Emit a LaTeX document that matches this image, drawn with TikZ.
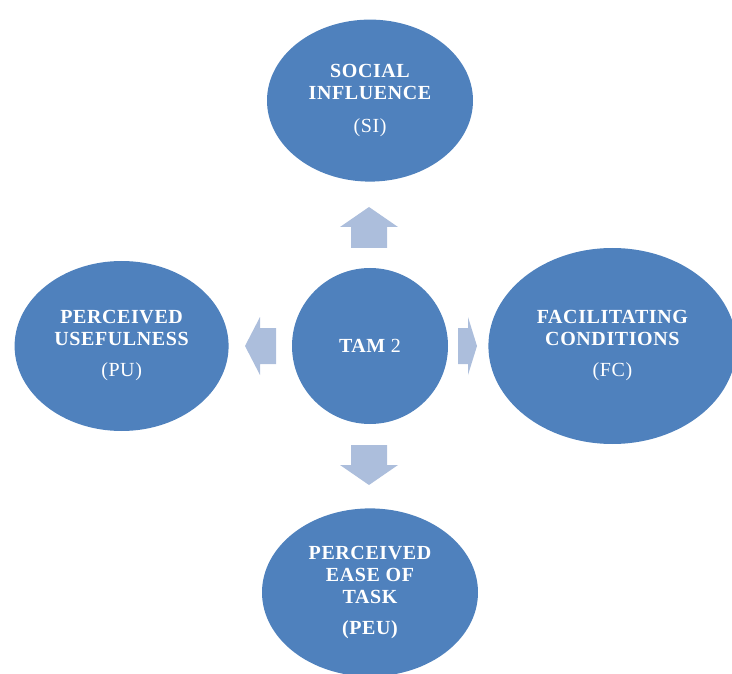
\documentclass[tikz,border=0pt]{standalone}
\usepackage{fontspec}
\setmainfont{Liberation Serif}[LetterSpace=3]
\usetikzlibrary{positioning,shapes.geometric}

\definecolor{tamblue}{RGB}{79,129,189}
\definecolor{arrowblue}{RGB}{172,190,220}

\tikzset{
  construct/.style={
    ellipse,
    fill=tamblue,
    inner sep=0pt,
    text=white,
    align=center,
    font=\bfseries\fontsize{20}{22}\selectfont
  },
  blockarrow/.style={fill=arrowblue}
}

\begin{document}
\begin{tikzpicture}[x=1pt,y=-1pt]
        \useasboundingbox (0,0) rectangle (732,674);

        % Centre model
        \node[construct, minimum width=156pt, minimum height=156pt] (tam) at (370,346)
          {TAM {\mdseries 2}};

        % Surrounding constructs
        \node[construct, minimum width=206pt, minimum height=162pt,
              above=86pt of tam] (si)
          {SOCIAL\\INFLUENCE\\[11pt]{\mdseries (SI)}};
        \node[construct, minimum width=214pt, minimum height=170pt,
              left=63pt of tam] (pu)
          {PERCEIVED\\USEFULNESS\\[9pt]{\mdseries (PU)}};
        \node[construct, minimum width=248pt, minimum height=196pt,
              right=40pt of tam] (fc)
          {FACILITATING\\CONDITIONS\\[9pt]{\mdseries (FC)}};
        \node[construct, minimum width=216pt, minimum height=168pt,
              below=84pt of tam] (peu)
          {PERCEIVED\\EASE OF\\TASK\\[9pt](PEU)};

        % Block arrows
        \fill[blockarrow] (351,248) -- (351,227) -- (340,227) -- (369,207)
          -- (398,227) -- (387,227) -- (387,248) -- cycle;
        \fill[blockarrow] (351,445) -- (351,465) -- (340,465) -- (369,485)
          -- (398,465) -- (387,465) -- (387,445) -- cycle;
        \fill[blockarrow] (276,328) -- (260,328) -- (260,317) -- (245,346)
          -- (260,375) -- (260,364) -- (276,364) -- cycle;
        \fill[blockarrow] (458,328) -- (468,328) -- (468,317) -- (477,346)
          -- (468,375) -- (468,364) -- (458,364) -- cycle;
      \end{tikzpicture}
\end{document}
